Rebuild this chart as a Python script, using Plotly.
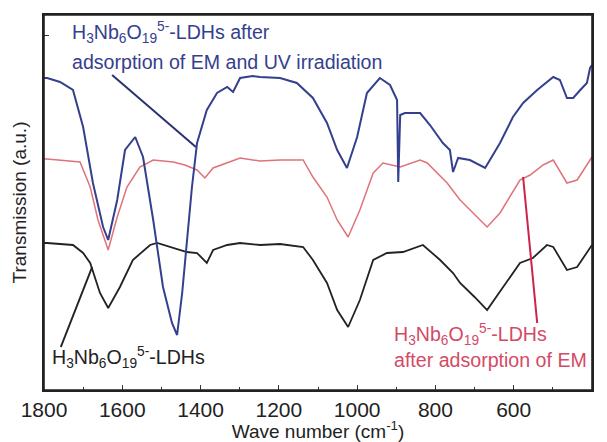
import plotly.graph_objects as go

# ---- data (wavenumber in cm-1, transmission in arbitrary units) ----
blue_wn = [1800, 1792, 1759, 1726, 1700, 1675, 1649, 1636, 1613, 1593, 1567, 1547, 1521, 1496, 1473, 1460,
           1447, 1435, 1422, 1409, 1384, 1358, 1332, 1317, 1299, 1267, 1248, 1197, 1154, 1113, 1077, 1051,
           1026, 1000, 975, 942, 916, 898, 895, 890, 878, 839, 814, 781, 763, 755, 742, 712, 673, 635, 602,
           576, 540, 499, 482, 464, 448, 430, 413, 405, 400]
blue_t = [32.2, 32.2, 31.8, 31.0, 27.3, 21.7, 17.3, 16.0, 20.0, 25.0, 26.3, 24.3, 18.0, 11.3, 7.7, 6.5,
          10.7, 15.7, 21.3, 25.7, 29.0, 30.7, 31.3, 30.8, 32.2, 32.4, 32.3, 32.2, 31.7, 30.2, 27.7, 25.0,
          23.2, 26.3, 30.7, 32.2, 31.5, 30.0, 21.8, 28.5, 28.7, 28.7, 27.5, 25.7, 25.0, 22.8, 24.2, 24.0, 23.2, 25.7, 28.3,
          29.7, 31.0, 32.3, 32.0, 30.2, 30.2, 31.0, 31.7, 33.2, 33.5]

red_wn = [1800, 1792, 1708, 1682, 1662, 1636, 1613, 1588, 1555, 1521, 1470, 1440, 1409, 1389, 1368, 1332,
          1299, 1248, 1197, 1138, 1113, 1077, 1051, 1023, 993, 959, 934, 890, 839, 821, 770, 737, 700,
          668, 635, 584, 558, 525, 499, 464, 438, 405, 400]
red_t = [24.1, 24.1, 23.8, 21.3, 18.0, 15.0, 18.3, 21.3, 23.3, 24.0, 23.8, 23.5, 23.0, 22.2, 23.2, 23.7,
         24.2, 23.9, 24.0, 24.0, 22.3, 20.3, 18.0, 16.3, 19.0, 22.7, 23.7, 23.3, 24.0, 23.7, 21.7, 20.0, 18.5,
         17.3, 18.7, 22.0, 22.5, 23.5, 24.0, 21.7, 22.0, 24.0, 24.3]

black_wn = [1800, 1792, 1726, 1700, 1682, 1657, 1636, 1606, 1573, 1529, 1511, 1470, 1435, 1409, 1384, 1368,
            1332, 1299, 1248, 1197, 1138, 1113, 1077, 1051, 1023, 993, 959, 924, 883, 832, 788, 755, 737,
            700, 668, 627, 584, 551, 515, 499, 464, 438, 405, 400]
black_t = [15.7, 15.7, 15.5, 14.7, 13.7, 10.7, 9.2, 11.3, 14.0, 15.5, 15.7, 15.2, 14.8, 14.7, 13.7, 15.0,
           15.5, 15.7, 15.5, 15.6, 15.3, 14.0, 11.7, 9.0, 7.3, 10.0, 14.0, 14.7, 14.8, 15.5, 14.0, 12.7, 11.7,
           10.3, 9.0, 11.3, 13.7, 14.2, 15.5, 15.3, 13.0, 13.3, 15.2, 15.5]

x_ticks = [1800, 1600, 1400, 1200, 1000, 800, 600, 400]
x_tick_labels = ["1800", "1600", "1400", "1200", "1000", "800", "600", "400"]

label_blue_1 = "H<sub>3</sub>Nb<sub>6</sub>O<sub>19</sub><sup>5-</sup>-LDHs after"
label_blue_2 = "adsorption of EM and UV irradiation"
label_black = "H<sub>3</sub>Nb<sub>6</sub>O<sub>19</sub><sup>5-</sup>-LDHs"
label_red_1 = "H<sub>3</sub>Nb<sub>6</sub>O<sub>19</sub><sup>5-</sup>-LDHs"
label_red_2 = "after adsorption of EM"

BLUE = "#34408e"
RED = "#e0727a"
RED_TXT = "#d44a66"
BLACK = "#222222"
FONT = "Liberation Sans, Arial, sans-serif"

fig = go.Figure()
fig.add_trace(go.Scatter(x=black_wn, y=black_t, mode="lines", line=dict(color=BLACK, width=1.8), showlegend=False))
fig.add_trace(go.Scatter(x=red_wn, y=red_t, mode="lines", line=dict(color=RED, width=1.5), showlegend=False))
fig.add_trace(go.Scatter(x=blue_wn, y=blue_t, mode="lines", line=dict(color=BLUE, width=2), showlegend=False))

# pointer lines
fig.add_shape(type="line", x0=1626, y0=32.5, x1=1412, y1=25.3, line=dict(color="#2a3270", width=2))
fig.add_shape(type="line", x0=1757, y0=5.3, x1=1677, y1=13.3, line=dict(color=BLACK, width=2))
fig.add_shape(type="line", x0=576, y0=22.3, x1=540, y1=7.7, line=dict(color="#cc2448", width=2))
# plot frame
fig.add_shape(type="rect", xref="paper", yref="paper", x0=0, y0=0, x1=1, y1=1,
              line=dict(color="#222", width=1.6), layer="above")

ann_font = dict(family=FONT, size=19.6)
fig.add_annotation(x=1734, y=36.8, text=label_blue_1, showarrow=False, xanchor="left", yanchor="middle",
                   font=dict(**ann_font, color=BLUE))
fig.add_annotation(x=1734, y=33.8, text=label_blue_2, showarrow=False, xanchor="left", yanchor="middle",
                   font=dict(**ann_font, color=BLUE))
fig.add_annotation(x=1785, y=4.3, text=label_black, showarrow=False, xanchor="left", yanchor="middle",
                   font=dict(**ann_font, color=BLACK))
fig.add_annotation(x=911, y=6.6, text=label_red_1, showarrow=False, xanchor="left", yanchor="middle",
                   font=dict(**ann_font, color=RED_TXT))
fig.add_annotation(x=911, y=4.0, text=label_red_2, showarrow=False, xanchor="left", yanchor="middle",
                   font=dict(**ann_font, color=RED_TXT))

fig.update_layout(
    width=607, height=442,
    margin=dict(l=44, r=15, t=15, b=52),
    paper_bgcolor="white", plot_bgcolor="white",
    font=dict(family=FONT, color=BLACK),
    xaxis=dict(range=[1800, 400], tickvals=x_ticks, ticktext=x_tick_labels,
               ticks="inside", ticklen=5, tickwidth=1.2, tickcolor="#333",
               minor=dict(tickvals=[1700, 1500, 1300, 1100, 900, 700, 500], ticks="inside", ticklen=3,
                          tickcolor="#333"),
               showline=True, linecolor="#222", linewidth=1.6, mirror=True, showgrid=False, zeroline=False,
               automargin=False,
               tickfont=dict(size=21, family=FONT, color=BLACK),
               title=dict(text="Wave number (cm<sup>-1</sup>)", font=dict(size=19, family=FONT, color=BLACK),
                          standoff=2)),
    yaxis=dict(range=[1.0, 38.5], tickvals=[36.5], ticktext=[""], ticks="inside", ticklen=5, tickcolor="#333",
               showline=True, linecolor="#222", linewidth=1.6, mirror=True, showgrid=False, zeroline=False,
               automargin=False,
               title=dict(text="Transmission (a.u.)", font=dict(size=19, family=FONT, color=BLACK), standoff=8)),
)

fig.write_html("out.html", config={"displayModeBar": False},
               post_script="document.body.style.margin='0';document.body.style.overflow='hidden';")
